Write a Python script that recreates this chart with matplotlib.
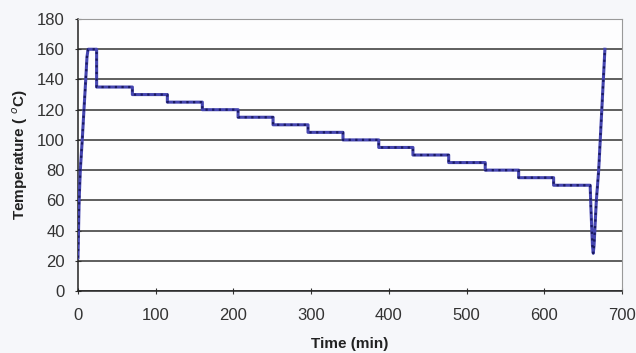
import matplotlib
matplotlib.use("Agg")
import matplotlib.pyplot as plt

# heating ramp, hold, stepwise cooling, quench, reheat
time_min = [0, 1.5, 3, 5.5, 7.7, 10, 11.6, 13, 24, 24, 70, 70, 115, 115, 160, 160,
            206, 206, 251, 251, 296, 296, 341, 341, 387, 387, 431, 431, 477, 477,
            524, 524, 567, 567, 612, 612, 659, 660, 661, 662, 663, 664, 665, 667,
            670, 672, 674, 676, 678]
temp_c = [22, 60, 80, 100, 120, 140, 155, 160, 160, 135, 135, 130, 130, 125, 125, 120,
          120, 115, 115, 110, 110, 105, 105, 100, 100, 95, 95, 90, 90, 85,
          85, 80, 80, 75, 75, 70, 70, 55, 42, 30, 25, 30, 40, 60,
          80, 100, 120, 140, 160]

x_ticks = [0, 100, 200, 300, 400, 500, 600, 700]
y_ticks = [0, 20, 40, 60, 80, 100, 120, 140, 160, 180]

plt.rcParams['font.family'] = ['Liberation Sans', 'DejaVu Sans']

fig = plt.figure(figsize=(6.36, 3.53), dpi=100, facecolor='#f6f7fa')
ax = fig.add_axes([0.1226, 0.1756, 0.8554, 0.7705])
ax.set_facecolor('#fdfdfe')

ax.plot(time_min, temp_c, color='#4545b0', lw=2.2, zorder=3)
ax.plot(time_min, temp_c, color='#1a1a60', lw=1.6, ls=(0, (1, 2)), zorder=4)

ax.set_xlim(0, 700)
ax.set_ylim(0, 180)
ax.set_xticks(x_ticks)
ax.set_yticks(y_ticks)
ax.yaxis.grid(True, color='#333333', lw=1.1)
ax.set_axisbelow(True)

for s in ['top', 'right']:
    ax.spines[s].set_color('#999999')
for s in ['left', 'bottom']:
    ax.spines[s].set_color('#222222')
    ax.spines[s].set_linewidth(1.1)

ax.tick_params(direction='inout', length=5, labelsize=12, colors='#333333')
ax.tick_params(axis='x', pad=10)
ax.tick_params(axis='y', pad=7)

ax.set_xlabel('Time (min)', fontsize=11, fontweight='bold', labelpad=10, color='#222222')
ax.set_ylabel('Temperature ( $^{o}$C)', fontsize=11, fontweight='bold', labelpad=5,
              color='#222222')

fig.savefig('out.png', dpi=100, facecolor=fig.get_facecolor())
